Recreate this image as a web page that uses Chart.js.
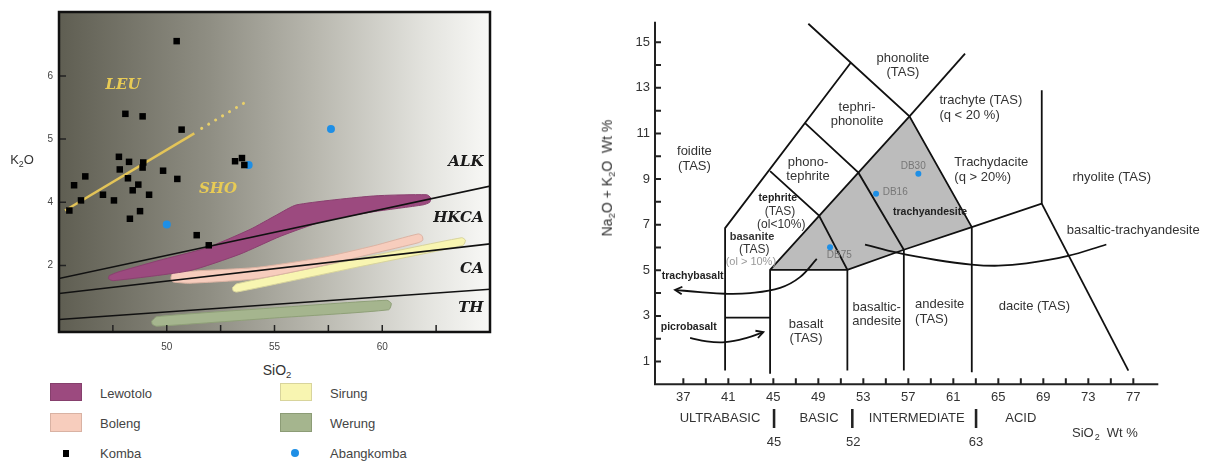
<!DOCTYPE html>
<html>
<head>
<meta charset="utf-8">
<script src="https://cdn.jsdelivr.net/npm/chart.js@4.4.1/dist/chart.umd.min.js"></script>
<style>
  body { margin: 0; width: 1212px; height: 463px; position: relative; overflow: hidden; background: #fff;
         font-family: "Liberation Sans", Arial, sans-serif; color: #333; }
  canvas { position: absolute; top: 0; }
  #k2oChart { left: 0; }
  #tasChart { left: 600px; }
  .t { position: absolute; white-space: nowrap; transform: translate(-50%, -50%); line-height: 1; }
  .l { position: absolute; white-space: nowrap; transform: translateY(-50%); font-size: 13px; color: #444; line-height: 1; }
  .sw { position: absolute; width: 32px; height: 18px; box-sizing: border-box; }
  .sb { font-size: 0.68em; vertical-align: -0.3em; }
</style>
</head>
<body>
<canvas id="k2oChart" width="500" height="360"></canvas>
<canvas id="tasChart" width="612" height="463"></canvas>

<div class="t" style="left:22px;top:161px;font-size:13px">K<span class="sb">2</span>O</div>
<div class="t" style="left:277px;top:371px;font-size:14px">SiO<span class="sb">2</span></div>
<div class="t" style="left:608px;top:178px;font-size:14px;transform:translate(-50%,-50%) rotate(-90deg)">Na<span class="sb">2</span>O + K<span class="sb">2</span>O&nbsp; Wt %</div>

<!-- legend of the left chart -->
<div class="sw" style="left:50px;top:383px;background:#9c4a7f;border:1px solid #86406d"></div>
<div class="l" style="left:100px;top:393px">Lewotolo</div>
<div class="sw" style="left:50px;top:413px;height:19px;background:#f7cdbd;border:1px solid #d9b2a3"></div>
<div class="l" style="left:100px;top:423px">Boleng</div>
<div style="position:absolute;left:63px;top:450px;width:6px;height:7px;background:#000"></div>
<div class="l" style="left:100px;top:453px">Komba</div>
<div class="sw" style="left:280px;top:383px;background:#f8f5b1;border:1px solid #d8d49c"></div>
<div class="l" style="left:330px;top:393px">Sirung</div>
<div class="sw" style="left:280px;top:413px;height:19px;background:#a5b58e;border:1px solid #8c9c76"></div>
<div class="l" style="left:330px;top:423px">Werung</div>
<div style="position:absolute;left:291px;top:449px;width:8px;height:8px;border-radius:50%;background:#1e8fe6"></div>
<div class="l" style="left:330px;top:453px">Abangkomba</div>

<script>
// ---------- left diagram: K2O vs SiO2 ----------
const kombaSiO2 = [50.46, 48.08, 48.88, 50.69, 47.78, 48.25, 48.91, 47.82, 48.88, 49.83, 46.22, 45.70, 48.20, 50.49,
                   48.68, 48.42, 49.18, 47.04, 46.02, 47.55, 45.48, 48.76, 48.29, 51.39, 51.95, 53.17, 53.49, 53.60];
const kombaK2O  = [6.55, 5.40, 5.36, 5.15, 4.72, 4.64, 4.63, 4.52, 4.55, 4.50, 4.41, 4.27, 4.38, 4.37,
                   4.28, 4.19, 4.12, 4.12, 4.03, 4.03, 3.87, 3.86, 3.74, 3.48, 3.32, 4.65, 4.70, 4.59];
const abangSiO2 = [50.0, 53.8, 57.62];
const abangK2O  = [3.65, 4.59, 5.16];

const alkLine  = [[44.8, 2.78], [65.2, 4.27]];
const hkcaLine = [[44.8, 2.55], [65.2, 3.35]];
const caLine   = [[44.8, 2.14], [65.2, 2.63]];
const leuLine  = [[45.28, 3.87], [51.28, 5.09]];
const leuDots  = [[51.62, 5.17], [53.78, 5.61]];

const lewotolo = [[47.33, 2.84], [47.68, 2.89], [49.53, 3.07], [51.85, 3.28], [53.86, 3.57], [55.10, 3.80], [56.03, 3.96],
                  [59.58, 4.10], [62.06, 4.12], [62.25, 4.07], [62.2, 4.0], [61.90, 3.96], [59.58, 3.85], [57.26, 3.70],
                  [55.26, 3.46], [53.40, 3.18], [51.08, 2.92], [47.52, 2.76], [47.3, 2.79], [47.33, 2.84]];
const boleng   = [[50.2, 2.82], [50.3, 2.89], [54.17, 2.97], [57.26, 3.13], [59.58, 3.31], [61.67, 3.50], [61.85, 3.47],
                  [61.88, 3.40], [61.67, 3.36], [59.58, 3.19], [57.26, 3.0], [54.17, 2.79], [51.08, 2.72], [50.3, 2.74],
                  [50.2, 2.78], [50.2, 2.82]];
const sirung   = [[53.05, 2.65], [53.25, 2.71], [58.5, 3.08], [63.69, 3.44], [63.86, 3.40], [63.75, 3.32], [58.5, 2.95],
                  [53.25, 2.58], [53.08, 2.6], [53.05, 2.65]];
const werung   = [[49.3, 2.12], [49.53, 2.19], [55, 2.33], [60.21, 2.45], [60.42, 2.40], [60.3, 2.30], [55, 2.17],
                  [49.53, 2.04], [49.33, 2.07], [49.3, 2.12]];

const k2oXTicks = [47.5, 50, 52.5, 55, 57.5, 60, 62.5];
const k2oXTickLabels = ['', '50', '', '55', '', '60', ''];
const k2oYTicks = [3, 4, 5, 6];
const k2oYTickLabels = ['2', '4', '5', '6'];

// ---------- right diagram: TAS ----------
const sampleNames = ['DB75', 'DB16', 'DB30'];
const sampleSiO2 = [50.04, 54.13, 57.89];
const sampleAlk  = [6.01, 8.36, 9.23];

const tasShaded = [[44.71, 5.02], [57.1, 11.75], [62.64, 6.89], [56.6, 5.9], [51.58, 5.02], [44.71, 5.02]];
const tasBoundaries = [
  [[40.71, 0.6], [40.71, 6.85], [51.88, 14.1]],
  [[48.11, 15.81], [57.1, 11.75], [62.64, 6.89]],
  [[57.1, 11.75], [62.04, 14.5]],
  [[44.71, 0.46], [44.71, 5.02], [57.1, 11.75]],
  [[44.71, 9.35], [49.06, 7.40], [51.58, 5.02], [51.58, 0.6]],
  [[47.82, 11.45], [52.56, 9.28], [56.6, 5.9], [56.6, 0.6]],
  [[44.71, 5.02], [51.58, 5.02], [56.6, 5.9], [62.64, 6.89], [68.86, 7.92], [68.86, 12.89]],
  [[62.64, 6.89], [62.64, 0.53]],
  [[68.86, 7.92], [76.56, 0.6]],
  [[40.71, 2.92], [44.71, 2.92]]
];
const alkalineDivide = [[53.15, 6.13], [56, 5.77], [59.5, 5.45], [62.6, 5.25], [65, 5.2], [67.5, 5.3], [71.1, 5.62], [74.6, 6.13]];
const trachybasaltArrow = [[48.86, 5.5], [47.37, 4.7], [45.6, 4.23], [42.93, 4.0], [40.71, 3.97], [38.48, 4.04], [36.26, 4.14]];
const picrobasaltArrow  = [[37.6, 2.04], [39.08, 1.88], [40.71, 1.85], [42.64, 2.04], [44.11, 2.29]];

const tasXTicks = [37, 39, 41, 43, 45, 47, 49, 51, 53, 55, 57, 59, 61, 63, 65, 67, 69, 71, 73, 75, 77];
const tasXTickLabels = ['37', '', '41', '', '45', '', '49', '', '53', '', '57', '', '61', '', '65', '', '69', '', '73', '', '77'];
const tasYTicks = [1, 2, 3, 4, 5, 6, 7, 8, 9, 10, 11, 12, 13, 14, 15];
const tasYTickLabels = ['1', '', '3', '', '5', '', '7', '', '9', '', '11', '', '13', '', '15'];

Chart.defaults.font.family = '"Liberation Sans", Arial, sans-serif';
Chart.defaults.animation = false;

const toXY = pts => pts.map(p => ({x: p[0], y: p[1]}));

function textPlugin(id, items) {
  return {
    id: id,
    afterDatasetsDraw(chart) {
      const {ctx, scales: {x, y}} = chart;
      items.forEach(t => {
        ctx.save();
        ctx.font = t.font;
        ctx.fillStyle = t.color;
        ctx.textAlign = t.align;
        ctx.textBaseline = 'middle';
        ctx.fillText(t.text, x.getPixelForValue(t.x), y.getPixelForValue(t.y));
        ctx.restore();
      });
    }
  };
}

// inward tick marks
function drawTicks(chart, xVals, yVals, len, width, color) {
  const {ctx, chartArea: a, scales: {x, y}} = chart;
  ctx.save();
  ctx.strokeStyle = color;
  ctx.lineWidth = width;
  ctx.beginPath();
  xVals.forEach(v => { const px = x.getPixelForValue(v); ctx.moveTo(px, a.bottom); ctx.lineTo(px, a.bottom - len); });
  yVals.forEach(v => { const py = y.getPixelForValue(v); ctx.moveTo(a.left, py); ctx.lineTo(a.left + len, py); });
  ctx.stroke();
  ctx.restore();
}

const serif = 'italic bold 15px "DejaVu Serif", "Liberation Serif", serif';
const k2oTexts = [
  {text: 'LEU', x: 47.97, y: 5.85, font: serif, color: '#e8cb55', align: 'center'},
  {text: 'SHO', x: 52.38, y: 4.21, font: serif, color: '#e8cb55', align: 'center'},
  {text: 'ALK', x: 64.7, y: 4.64, font: serif, color: '#1a1a1a', align: 'right'},
  {text: 'HKCA', x: 64.7, y: 3.75, font: serif, color: '#1a1a1a', align: 'right'},
  {text: 'CA', x: 64.7, y: 2.95, font: serif, color: '#1a1a1a', align: 'right'},
  {text: 'TH', x: 64.7, y: 2.32, font: serif, color: '#1a1a1a', align: 'right'}
];

const k2oFrame = {
  id: 'k2oFrame',
  beforeDatasetsDraw(chart) {
    const {ctx, chartArea: a} = chart;
    const g = ctx.createLinearGradient(a.left, 0, a.right, 0);
    g.addColorStop(0, '#5f5e52');
    g.addColorStop(0.35, '#8f8e83');
    g.addColorStop(0.6, '#b9b8af');
    g.addColorStop(0.85, '#e3e3de');
    g.addColorStop(1, '#f8f8f6');
    ctx.save();
    ctx.fillStyle = g;
    ctx.fillRect(a.left, a.top, a.right - a.left, a.bottom - a.top);
    ctx.restore();
  },
  afterDraw(chart) {
    const {ctx, chartArea: a} = chart;
    drawTicks(chart, k2oXTicks, k2oYTicks, 7, 1.5, '#222');
    ctx.save();
    ctx.strokeStyle = '#111';
    ctx.lineWidth = 2.5;
    ctx.strokeRect(a.left, a.top, a.right - a.left, a.bottom - a.top);
    ctx.restore();
  }
};

function field(pts, fill, border) {
  return {data: toXY(pts), showLine: true, fill: 'shape', backgroundColor: fill, borderColor: border,
          borderWidth: 1, pointRadius: 0, tension: 0.2};
}
function line(pts, color, width) {
  return {data: toXY(pts), showLine: true, fill: false, borderColor: color, borderWidth: width, pointRadius: 0};
}

new Chart(document.getElementById('k2oChart'), {
  type: 'scatter',
  data: {
    datasets: [
      {label: 'Komba', data: kombaSiO2.map((v, i) => ({x: v, y: kombaK2O[i]})), pointStyle: 'rect',
       pointRadius: 4.6, backgroundColor: '#000', borderColor: '#000', borderWidth: 0},
      {label: 'Abangkomba', data: abangSiO2.map((v, i) => ({x: v, y: abangK2O[i]})), pointStyle: 'circle',
       pointRadius: 4, backgroundColor: '#1e8fe6', borderColor: '#1e8fe6', borderWidth: 0},
      line(alkLine, '#111', 1.6),
      line(hkcaLine, '#111', 1.6),
      line(caLine, '#111', 1.6),
      line(leuLine, '#e3c458', 2.5),
      Object.assign(line(leuDots, '#e8cf6a', 3), {borderDash: [0.1, 8], borderCapStyle: 'round'}),
      field(lewotolo, '#9c4a7f', '#8a406f'),
      field(boleng, '#f7cdbd', '#dcb3a3'),
      field(sirung, '#f8f5b1', '#d8d49c'),
      field(werung, '#a5b58e', '#8fa078')
    ]
  },
  options: {
    responsive: false,
    layout: {padding: {top: 8, right: 10, left: 0, bottom: 0}},
    plugins: {legend: {display: false}, tooltip: {enabled: false}},
    scales: {
      x: {
        type: 'linear', min: 45, max: 65,
        grid: {display: false, drawTicks: false}, border: {display: false},
        afterBuildTicks: s => { s.ticks = k2oXTicks.map(v => ({value: v})); },
        afterFit: s => { s.height = 28; },
        ticks: {autoSkip: false, maxRotation: 0, padding: 9, color: '#444', font: {size: 10},
                callback: (v, i) => k2oXTickLabels[i]}
      },
      y: {
        type: 'linear', min: 1.948, max: 7.011,
        grid: {display: false, drawTicks: false}, border: {display: false},
        afterBuildTicks: s => { s.ticks = k2oYTicks.map(v => ({value: v})); },
        afterFit: s => { s.width = 59; },
        ticks: {autoSkip: false, padding: 6, color: '#444', font: {size: 10},
                callback: (v, i) => k2oYTickLabels[i]}
      }
    }
  },
  plugins: [k2oFrame, textPlugin('k2oTexts', k2oTexts)]
});

// ---------- TAS ----------
const reg = '13px "Liberation Sans", Arial, sans-serif';
const small = 'bold 10.5px "Liberation Sans", Arial, sans-serif';
const mid = '12px "Liberation Sans", Arial, sans-serif';
const dbf = '10px "Liberation Sans", Arial, sans-serif';
const ink = '#333';
const tasTexts = [
  ['phonolite', 56.52, 14.28, reg, ink, 'center'], ['(TAS)', 56.52, 13.68, reg, ink, 'center'],
  ['tephri-', 52.44, 12.15, reg, ink, 'center'], ['phonolite', 52.44, 11.53, reg, ink, 'center'],
  ['foidite', 37.98, 10.22, reg, ink, 'center'], ['(TAS)', 37.98, 9.57, reg, ink, 'center'],
  ['phono-', 48.08, 9.71, reg, ink, 'center'], ['tephrite', 48.08, 9.11, reg, ink, 'center'],
  ['tephrite', 45.4, 8.18, small, '#222', 'center'], ['(TAS)', 45.6, 7.58, mid, ink, 'center'],
  ['(ol<10%)', 45.7, 7.01, mid, ink, 'center'],
  ['basanite', 43.1, 6.48, 'bold 11px "Liberation Sans", Arial, sans-serif', '#333', 'center'],
  ['(TAS)', 43.3, 5.91, mid, ink, 'center'], ['(ol > 10%)', 43.0, 5.36, '11px "Liberation Sans", Arial, sans-serif', '#999', 'center'],
  ['trachyte (TAS)', 59.76, 12.45, reg, ink, 'left'], ['(q < 20 %)', 59.76, 11.79, reg, ink, 'left'],
  ['Trachydacite', 61.09, 9.71, reg, ink, 'left'], ['(q > 20%)', 61.09, 9.06, reg, ink, 'left'],
  ['rhyolite (TAS)', 75.08, 9.06, reg, ink, 'center'],
  ['trachyandesite', 58.93, 7.55, small, '#222', 'center'],
  ['basaltic-trachyandesite', 71.08, 6.75, reg, ink, 'left'],
  ['trachybasalt', 35.08, 4.73, small, '#222', 'left'],
  ['picrobasalt', 34.99, 2.5, small, '#222', 'left'],
  ['basalt', 47.91, 2.62, reg, ink, 'center'], ['(TAS)', 47.91, 2.0, reg, ink, 'center'],
  ['basaltic-', 54.19, 3.38, reg, ink, 'center'], ['andesite', 54.19, 2.77, reg, ink, 'center'],
  ['andesite', 57.6, 3.5, reg, ink, 'left'], ['(TAS)', 57.6, 2.83, reg, ink, 'left'],
  ['dacite (TAS)', 68.2, 3.41, reg, ink, 'center'],
  ['DB75', 49.75, 5.65, dbf, '#777', 'left'], ['DB16', 54.72, 8.43, dbf, '#777', 'left'],
  ['DB30', 56.32, 9.55, dbf, '#777', 'left'],
  ['ULTRABASIC', 40.26, -1.51, reg, ink, 'center'], ['|', 45.06, -1.51, 'bold 20px "Liberation Sans", Arial', '#222', 'center'],
  ['BASIC', 49.06, -1.51, reg, ink, 'center'], ['|', 52.02, -1.51, 'bold 20px "Liberation Sans", Arial', '#222', 'center'],
  ['INTERMEDIATE', 57.75, -1.51, reg, ink, 'center'], ['|', 63.02, -1.51, 'bold 20px "Liberation Sans", Arial', '#222', 'center'],
  ['ACID', 67.0, -1.51, reg, ink, 'center'],
  ['45', 45.06, -2.54, reg, ink, 'center'], ['52', 52.1, -2.54, reg, ink, 'center'], ['63', 63.02, -2.54, reg, ink, 'center']
].map(r => ({text: r[0], x: r[1], y: r[2], font: r[3], color: r[4], align: r[5]}));

function arrowHead(ctx, x0, y0, x1, y1) {
  const a = Math.atan2(y1 - y0, x1 - x0), L = 8;
  ctx.beginPath();
  ctx.moveTo(x1 - L * Math.cos(a - 0.5), y1 - L * Math.sin(a - 0.5));
  ctx.lineTo(x1, y1);
  ctx.lineTo(x1 - L * Math.cos(a + 0.5), y1 - L * Math.sin(a + 0.5));
  ctx.stroke();
}

const tasFrame = {
  id: 'tasFrame',
  afterDraw(chart) {
    const {ctx, chartArea: a, scales: {x, y}} = chart;
    drawTicks(chart, tasXTicks, tasYTicks, 6, 2, '#222');
    ctx.save();
    ctx.strokeStyle = '#222';
    ctx.lineWidth = 2;
    ctx.beginPath();
    ctx.moveTo(a.left, a.top); ctx.lineTo(a.left, a.bottom); ctx.lineTo(a.right, a.bottom);
    ctx.stroke();
    ctx.lineWidth = 1.8;
    ctx.strokeStyle = '#111';
    [trachybasaltArrow, picrobasaltArrow].forEach(p => {
      const n = p.length;
      arrowHead(ctx, x.getPixelForValue(p[n - 2][0]), y.getPixelForValue(p[n - 2][1]),
                x.getPixelForValue(p[n - 1][0]), y.getPixelForValue(p[n - 1][1]));
    });
    ctx.fillStyle = '#333';
    ctx.font = '13px "Liberation Sans", Arial, sans-serif';
    ctx.textBaseline = 'middle';
    ctx.textAlign = 'left';
    const sx = x.getPixelForValue(71.55), sy = y.getPixelForValue(-2.17);
    ctx.fillText('SiO', sx, sy);
    const w = ctx.measureText('SiO').width;
    ctx.font = '9px "Liberation Sans", Arial, sans-serif';
    ctx.fillText('2', sx + w + 1, sy + 4);
    ctx.font = '13px "Liberation Sans", Arial, sans-serif';
    ctx.fillText('Wt %', sx + w + 13, sy);
    ctx.restore();
  }
};

const tasDatasets = [
  {label: 'samples', data: sampleSiO2.map((v, i) => ({x: v, y: sampleAlk[i]})), pointRadius: 3,
   backgroundColor: '#1e8fe6', borderWidth: 0}
];
tasBoundaries.forEach(b => tasDatasets.push(line(b, '#111', 1.8)));
tasDatasets.push(Object.assign(line(alkalineDivide, '#111', 1.8), {tension: 0.4}));
tasDatasets.push(Object.assign(line(trachybasaltArrow, '#111', 1.8), {tension: 0.4}));
tasDatasets.push(Object.assign(line(picrobasaltArrow, '#111', 1.8), {tension: 0.4}));
tasDatasets.push({data: toXY(tasShaded), showLine: true, fill: 'shape', backgroundColor: '#bcbcbc',
                  borderWidth: 0, borderColor: 'rgba(0,0,0,0)', pointRadius: 0});

new Chart(document.getElementById('tasChart'), {
  type: 'scatter',
  data: {datasets: tasDatasets},
  options: {
    responsive: false,
    layout: {padding: {top: 21.7, right: 53.7, left: 0, bottom: 0}},
    plugins: {legend: {display: false}, tooltip: {enabled: false}},
    scales: {
      x: {
        type: 'linear', min: 34.48, max: 79.22,
        grid: {display: false, drawTicks: false}, border: {display: false},
        afterBuildTicks: s => { s.ticks = tasXTicks.map(v => ({value: v})); },
        afterFit: s => { s.height = 78.7; },
        ticks: {autoSkip: false, maxRotation: 0, padding: 5, color: '#333', font: {size: 13},
                callback: (v, i) => tasXTickLabels[i]}
      },
      y: {
        type: 'linear', min: 0, max: 15.9,
        grid: {display: false, drawTicks: false}, border: {display: false},
        afterBuildTicks: s => { s.ticks = tasYTicks.map(v => ({value: v})); },
        afterFit: s => { s.width = 55; },
        ticks: {autoSkip: false, padding: 5, color: '#333', font: {size: 13},
                callback: (v, i) => tasYTickLabels[i]}
      }
    }
  },
  plugins: [tasFrame, textPlugin('tasTexts', tasTexts)]
});
</script>
</body>
</html>
